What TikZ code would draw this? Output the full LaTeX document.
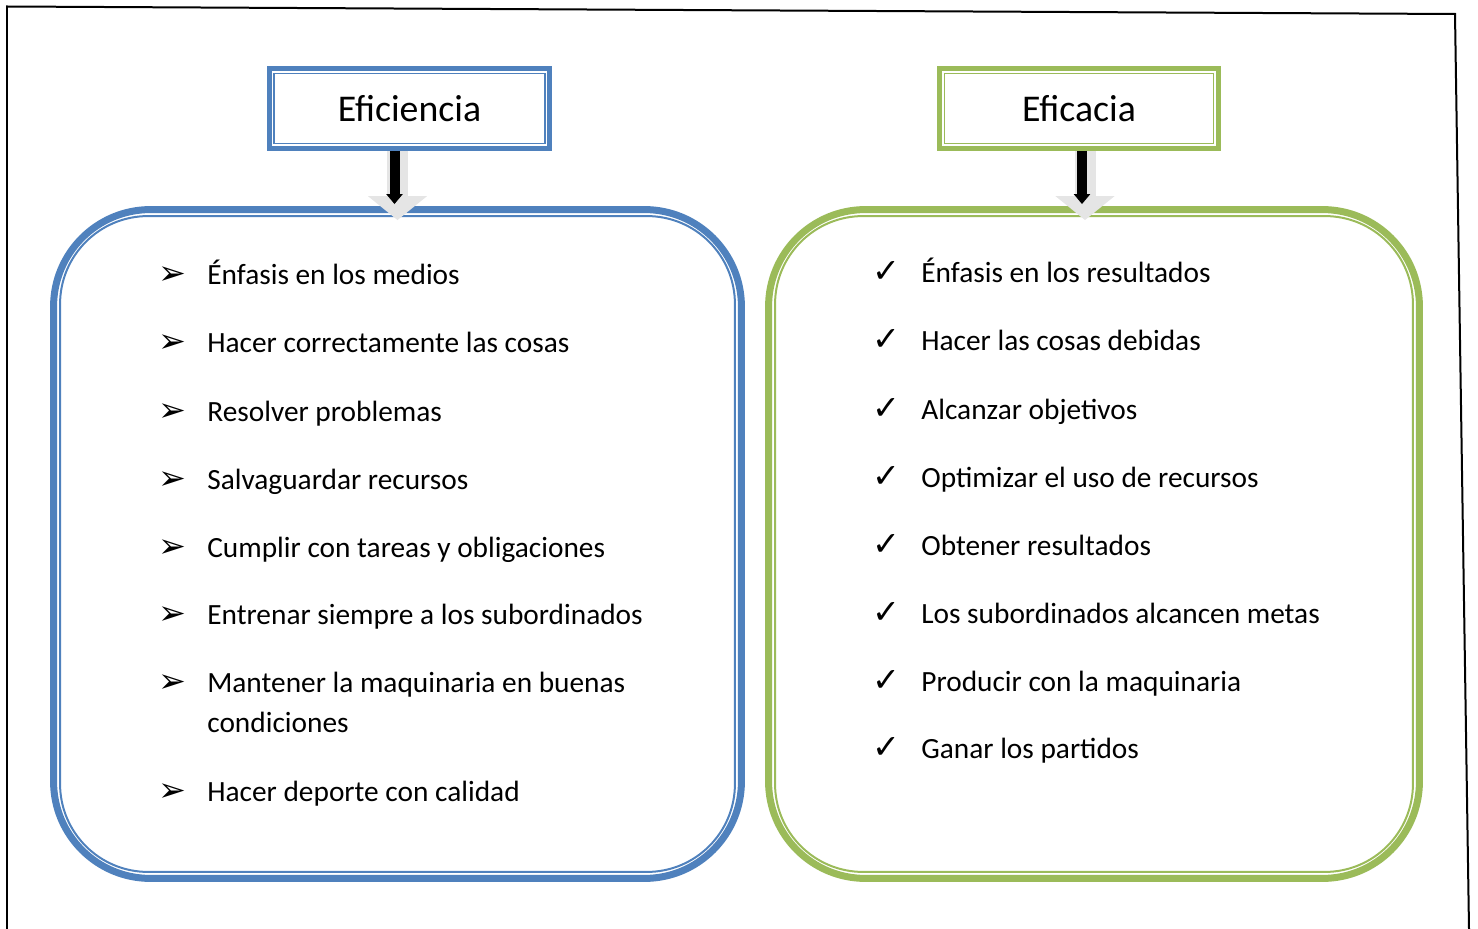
\documentclass[tikz,border=0pt]{standalone}
\usepackage{fontspec}
\setmainfont{Carlito}
\newfontfamily\simbolos{DejaVu Sans}
\usetikzlibrary{calc, arrows.meta}
\definecolor{azul}{RGB}{79,129,189}
\definecolor{verde}{RGB}{155,187,89}
\newcommand\doslineas[2]{\vtop{\hbox{#1}\hbox{#2}}}
\tikzset{ titulo/.style = { rectangle
                          , draw
                          , fill           = white
                          , line width     = 0.1cm
                          , minimum width  = 5.62cm
                          , minimum height = 1.6cm
                          , font           = \fontsize{21.5}{25}\selectfont
                          },
            caja/.style = { rectangle
                          , draw
                          , line width     = 0.14cm
                          , rounded corners = 1.94cm
                          , minimum height = 13.38cm
                          },
            item/.style = { anchor     = base west
                          , inner sep  = 0pt
                          , font       = \fontsize{16.7}{23.3}\selectfont
                          },
            bala/.style = { anchor     = base
                          , inner sep  = 0pt
                          , font       = \simbolos\fontsize{19}{22}\selectfont
                          }
          }

\begin{document}
\begin{tikzpicture}[x=0.02cm, y=-0.02cm]
    \useasboundingbox (0,0) rectangle (1478,929);
    % marco de la hoja
    \draw[line width=0.04cm] (7,929) -- (7,6.5) -- (1455,14) -- (1469,929);
    % titulos y cajas
    \node[titulo, draw=azul]  (t1) at (409.5,108.5) {Eficiencia};
    \node[titulo, draw=verde, minimum width=5.58cm] (t2) at (1079,108.5) {Eficacia};
    \node[caja, draw=azul,  minimum width=13.76cm] (c1) at (397.5,544) {};
    \node[caja, draw=verde, minimum width=13.02cm] (c2) at (1094,544) {};
    \foreach \n/\col in {1/azul, 2/verde} {
      \draw[\col, line width=0.03cm]
        ($(t\n.north west)+(7.5,7.5)$) rectangle ($(t\n.south east)+(-7.5,-7.5)$);
      \draw[\col, line width=0.04cm, rounded corners=1.76cm]
        ($(c\n.north west)+(10,10)$) rectangle ($(c\n.south east)+(-10,-10)$);
    }
    % flechas
    \foreach \n/\g/\b in {1/-12/-15, 2/6/3} {
      \draw[gray!20, line width=0.42cm, shorten >=-0.28cm,
            -{Triangle[width=1.16cm, length=0.48cm]}]
        ($(t\n.south)+(\g,0)$) -- ($(t\n.south |- c\n.north)+(\g,0)$);
      \draw[line width=0.2cm, shorten >=0.04cm,
            -{Triangle[width=0.32cm, length=0.2cm]}]
        ($(t\n.south)+(\b,0)$) -- ($(t\n.south |- c\n.north)+(\b,0)$);
    }
    % eficiencia
    \foreach \i/\y/\txt in {1/285/{Énfasis en los medios},
                            2/353/{Hacer correctamente las cosas},
                            3/421/{Resolver problemas},
                            4/489/{Salvaguardar recursos},
                            5/557/{Cumplir con tareas y obligaciones},
                            6/624/{Entrenar siempre a los subordinados},
                            7/692/{\doslineas{Mantener la maquinaria en buenas}{condiciones}},
                            8/801/{Hacer deporte con calidad}} {
      \node[bala] (a\i) at (172,\y) {➢};
      \node[item] (e\i) at (207,\y) {\txt};
    }
    % eficacia
    \foreach \i/\y/\txt in {1/283/{Énfasis en los resultados},
                            2/351/{Hacer las cosas debidas},
                            3/419/{Alcanzar objetivos},
                            4/487/{Optimizar el uso de recursos},
                            5/555/{Obtener resultados},
                            6/623/{Los subordinados alcancen metas},
                            7/691/{Producir con la maquinaria},
                            8/758/{Ganar los partidos}} {
      \node[bala] (v\i) at (886,\y) {✓};
      \node[item] (f\i) at (921,\y) {\txt};
    }
\end{tikzpicture}
\end{document}
